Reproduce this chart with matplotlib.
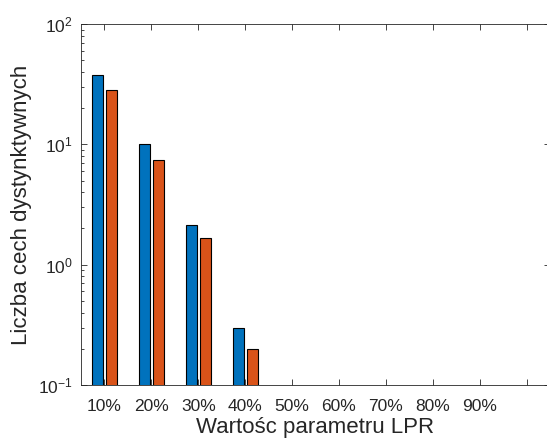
import matplotlib.pyplot as plt
import numpy as np
from matplotlib.ticker import LogLocator, NullFormatter

plt.rcParams['font.family'] = ['Liberation Sans', 'DejaVu Sans']
plt.rcParams['mathtext.fontset'] = 'custom'
plt.rcParams['mathtext.rm'] = 'Liberation Sans'
plt.rcParams['mathtext.it'] = 'Liberation Sans'

# wartosci parametru LPR i liczba cech dla dwoch serii
lpr = ['10%', '20%', '30%', '40%', '50%', '60%', '70%', '80%', '90%', '']
seria1 = [37.5, 10.0, 2.15, 0.3, 0, 0, 0, 0, 0, 0]
seria2 = [28.5, 7.4, 1.65, 0.2, 0, 0, 0, 0, 0, 0]

gray = '#262626'
fig = plt.figure(figsize=(5.47, 4.41), dpi=100)
# os wychodzi poza prawa krawedz rysunku
ax = fig.add_axes([81 / 547, 56 / 441, 469 / 547, 361 / 441])

x = np.arange(1, len(lpr) + 1)
w = 0.235
ax.bar(x - 0.148, seria1, w, color='#0072BD', edgecolor='black', linewidth=0.8)
ax.bar(x + 0.148, seria2, w, color='#D95319', edgecolor='black', linewidth=0.8)

ax.set_yscale('log')
ax.set_ylim(0.1, 100)
ax.set_xlim(0.5, 10.5)
ax.set_xticks(x)
ax.set_xticklabels(lpr)
ax.yaxis.set_major_locator(LogLocator(base=10, numticks=10))
ax.yaxis.set_minor_locator(LogLocator(base=10, subs=np.arange(2, 10), numticks=10))
ax.yaxis.set_minor_formatter(NullFormatter())

ax.tick_params(axis='both', which='both', direction='in', top=True, right=True,
               colors=gray, labelsize=12.5, width=0.6)
ax.tick_params(which='major', length=4)
ax.tick_params(which='minor', length=2.5)
ax.tick_params(axis='x', which='minor', bottom=False, top=False)
ax.tick_params(axis='x', pad=10)
ax.tick_params(axis='y', pad=6)
for s in ax.spines.values():
    s.set_color(gray)
    s.set_linewidth(0.6)

ax.set_xlabel('Wartośc parametru LPR', fontsize=16, color=gray, labelpad=2)
ax.set_ylabel('Liczba cech dystynktywnych', fontsize=16, color=gray, labelpad=4)

plt.savefig('out.png', dpi=100)
